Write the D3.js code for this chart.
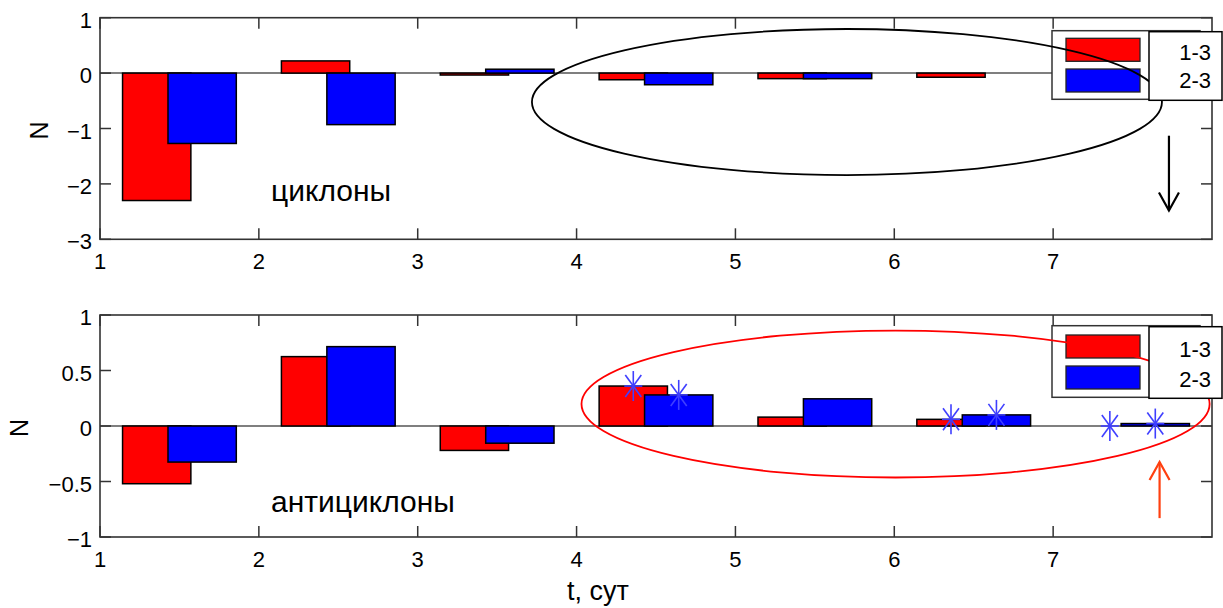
<!DOCTYPE html>
<html><head><meta charset="utf-8">
<script src="https://cdn.jsdelivr.net/npm/d3@7"></script>
<style>html,body{margin:0;padding:0;background:#fff;}svg{display:block;font-family:"Liberation Sans",Arial,sans-serif;}</style>
</head><body>
<svg id="chart" width="1223" height="608"></svg>
<script>
// ---- data ----
const days = [1, 2, 3, 4, 5, 6, 7];            // category start (bars centred at day + 0.5)
const xTicks = [1, 2, 3, 4, 5, 6, 7];
const seriesNames = ["1-3", "2-3"];
const seriesColors = ["#ff0000", "#0000ff"];
const cycl13 = [-2.30, 0.22, -0.035, -0.12, -0.10, -0.075, 0];
const cycl23 = [-1.27, -0.93, 0.07, -0.21, -0.10, 0, 0];
const anti13 = [-0.52, 0.625, -0.22, 0.36, 0.08, 0.06, 0];
const anti23 = [-0.325, 0.715, -0.155, 0.28, 0.245, 0.10, 0.022];
const cyclYTicks = [-3, -2, -1, 0, 1];
const antiYTicks = [-1, -0.5, 0, 0.5, 1];
// significant points (series index, day index) marked with asterisks on the lower panel
const starPoints = [[0, 3], [1, 3], [0, 5], [1, 5], [0, 6], [1, 6]];

const svg = d3.select("#chart");
const FONT = 22;
const barW = 0.43, off = 0.143;

function fmt(v) { return (v < 0 ? "\u2212" : "") + String(Math.abs(v)); }

function panel(cfg) {
  const x = d3.scaleLinear().domain([1, 8]).range([100, 1212]);
  const y = d3.scaleLinear().domain(cfg.domain).range([cfg.bottom, cfg.top]);
  const g = svg.append("g");
  const L = x.range()[0], R = x.range()[1], T = cfg.top, B = cfg.bottom;
  // zero line
  g.append("line").attr("x1", L).attr("x2", R).attr("y1", y(0)).attr("y2", y(0))
    .attr("stroke", "#555").attr("stroke-width", 1.5);
  // bars
  [cfg.s1, cfg.s2].forEach((s, si) => {
    g.selectAll(null).data(s).enter().append("rect")
      .attr("x", (d, i) => x(days[i] + 0.5 + (si === 0 ? -off : off) - barW / 2))
      .attr("width", x(1 + barW) - x(1))
      .attr("y", d => y(Math.max(0, d)))
      .attr("height", d => Math.abs(y(d) - y(0)))
      .attr("fill", seriesColors[si]).attr("stroke", "#000").attr("stroke-width", 1.5);
  });
  // stars
  if (cfg.stars) {
    const sg = g.append("g").attr("stroke", "#3f3fff").attr("stroke-width", 1.6);
    cfg.stars.forEach(([si, di]) => {
      const v = (si === 0 ? cfg.s1 : cfg.s2)[di];
      const cx = x(days[di] + 0.5 + (si === 0 ? -off : off)), cy = y(v);
      [[0, 15], [9, 0], [8, 11], [8, -11]].forEach(([dx, dy]) => {
        sg.append("line").attr("x1", cx - dx).attr("y1", cy - dy).attr("x2", cx + dx).attr("y2", cy + dy);
      });
    });
  }
  // frame
  g.append("rect").attr("x", L).attr("y", T).attr("width", R - L).attr("height", B - T)
    .attr("fill", "none").attr("stroke", "#333").attr("stroke-width", 1.6);
  const tk = 11;
  xTicks.forEach(t => {
    g.append("line").attr("x1", x(t)).attr("x2", x(t)).attr("y1", B).attr("y2", B - tk).attr("stroke", "#333").attr("stroke-width", 1.5);
    g.append("line").attr("x1", x(t)).attr("x2", x(t)).attr("y1", T).attr("y2", T + tk).attr("stroke", "#333").attr("stroke-width", 1.5);
    g.append("text").attr("x", x(t)).attr("y", B + 30).attr("text-anchor", "middle")
      .attr("font-size", FONT).attr("fill", "#000").text(t);
  });
  cfg.yTicks.forEach(t => {
    g.append("line").attr("x1", L).attr("x2", L + tk).attr("y1", y(t)).attr("y2", y(t)).attr("stroke", "#333").attr("stroke-width", 1.5);
    g.append("line").attr("x1", R).attr("x2", R - tk).attr("y1", y(t)).attr("y2", y(t)).attr("stroke", "#333").attr("stroke-width", 1.5);
    g.append("text").attr("x", 92).attr("y", y(t) + 10).attr("text-anchor", "end")
      .attr("font-size", FONT).attr("fill", "#000").text(fmt(t));
  });
  // y label
  g.append("text").attr("transform", `translate(${cfg.nx},${(T + B) / 2 + 2}) rotate(-90)`)
    .attr("text-anchor", "middle").attr("dominant-baseline", "central")
    .attr("font-size", 25).attr("fill", "#000").text("N");
  // title text
  g.append("text").attr("x", 271).attr("y", cfg.labelY).attr("font-size", 30).attr("fill", "#000").text(cfg.label);
  // legend box + patches
  const lg = g.append("g");
  lg.append("rect").attr("x", 1052).attr("y", cfg.leg.top).attr("width", 148).attr("height", cfg.leg.h)
    .attr("fill", "#fff").attr("stroke", "#333").attr("stroke-width", 1.5);
  seriesColors.forEach((c, i) => {
    lg.append("rect").attr("x", 1066).attr("y", cfg.leg.patch[i]).attr("width", 74).attr("height", 23)
      .attr("fill", c).attr("stroke", "#222").attr("stroke-width", 1.3);
  });
  // ellipse
  const e = cfg.ell;
  g.append("ellipse").attr("cx", x(e.cx)).attr("cy", y(e.cy))
    .attr("rx", x(1 + e.rx) - x(1)).attr("ry", Math.abs(y(0) - y(e.ry)))
    .attr("fill", "none").attr("stroke", e.color).attr("stroke-width", e.w);
  // legend text box (on top)
  g.append("rect").attr("x", 1149).attr("y", cfg.leg.top + 1).attr("width", 73).attr("height", cfg.leg.h)
    .attr("fill", "#fff").attr("stroke", "#000").attr("stroke-width", 1.5);
  seriesNames.forEach((n, i) => {
    g.append("text").attr("x", 1211).attr("y", cfg.leg.text[i]).attr("text-anchor", "end")
      .attr("font-size", FONT).attr("fill", "#000").text(n);
  });
  // arrow
  const a = cfg.arrow;
  const ax = x(a.x), y0 = y(a.y0), y1 = y(a.y1);
  const dir = y1 > y0 ? 1 : -1;
  const ag = g.append("g").attr("stroke", a.color).attr("stroke-width", 2.2).attr("fill", "none");
  ag.append("line").attr("x1", ax).attr("x2", ax).attr("y1", y0).attr("y2", y1);
  ag.append("path").attr("d", `M${ax - 10},${y1 - dir * 18} L${ax},${y1} L${ax + 10},${y1 - dir * 18}`);
  return { x, y };
}

panel({
  top: 17.7, bottom: 239.3, domain: [-3, 1], s1: cycl13, s2: cycl23, yTicks: cyclYTicks,
  nx: 39, label: "циклоны", labelY: 201,
  leg: { top: 30.7, h: 68.6, patch: [38.3, 69], text: [60, 88] },
  ell: { cx: 5.702, cy: -0.522, rx: 1.983, ry: 1.318, color: "#000", w: 1.8 },
  arrow: { x: 7.729, y0: -1.13, y1: -2.48, color: "#000" }
});
panel({
  top: 315, bottom: 537, domain: [-1, 1], s1: anti13, s2: anti23, yTicks: antiYTicks,
  nx: 19, label: "антициклоны", labelY: 512, stars: starPoints,
  leg: { top: 325.7, h: 71.6, patch: [335, 366], text: [357, 387] },
  ell: { cx: 6.008, cy: 0.198, rx: 1.977, ry: 0.662, color: "#ff0000", w: 1.8 },
  arrow: { x: 7.67, y0: -0.83, y1: -0.325, color: "#ff4010" }
});
svg.append("text").attr("x", 598).attr("y", 600).attr("text-anchor", "middle")
  .attr("font-size", 27).attr("fill", "#000").text("t, сут");
</script>
</body></html>
